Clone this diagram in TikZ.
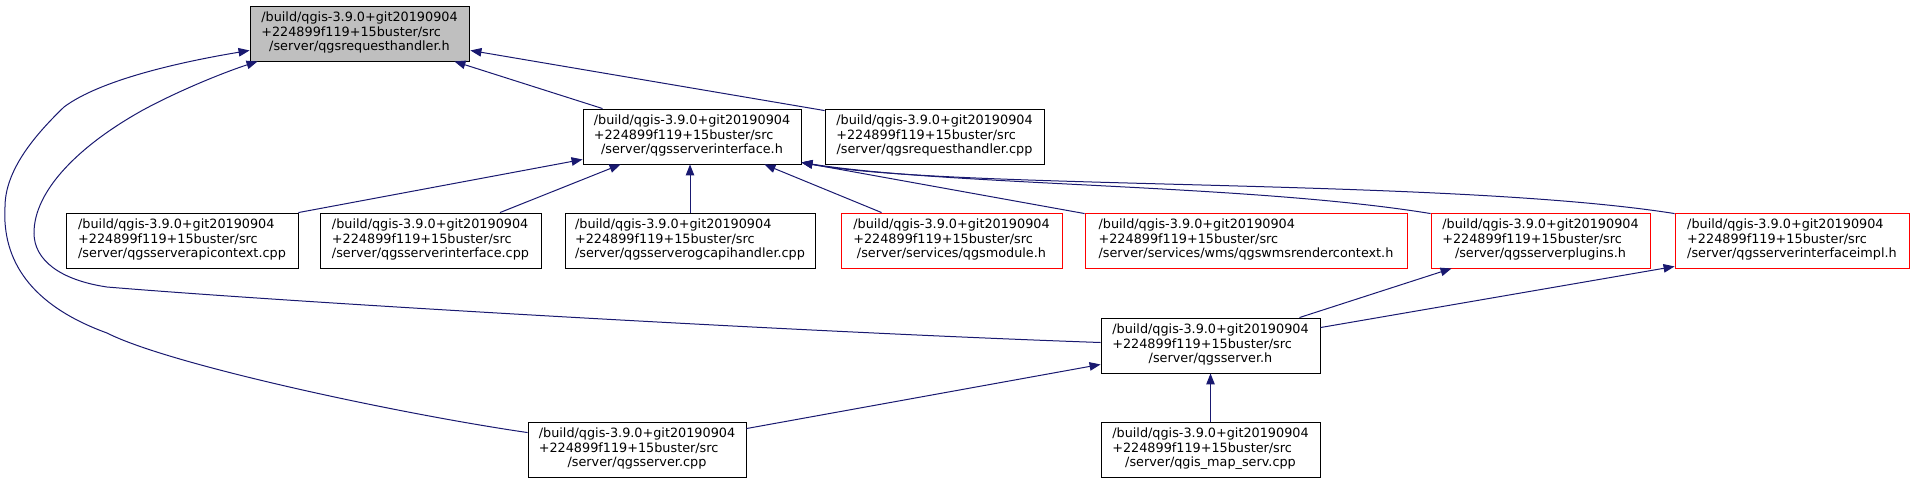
\documentclass[tikz,border=0pt]{standalone}
\usepackage{fontspec}
\setmainfont{DejaVu Sans}
\usetikzlibrary{arrows.meta,calc}
\definecolor{edgeblue}{HTML}{191970}
\definecolor{rootgray}{HTML}{BFBFBF}
\newcommand{\lbl}[3]{\begin{tabular}{@{}l@{}}#1\\#2\\\multicolumn{1}{@{}c@{}}{#3}\end{tabular}}
\begin{document}
\begin{tikzpicture}[x=1pt,y=-1pt,
  box/.style={draw=black,fill=white,line width=0.9pt,rectangle,inner sep=0pt,minimum height=55pt,
    font=\fontsize{12.8}{14.5}\selectfont},
  redbox/.style={box,draw=red},
  rootbox/.style={box,fill=rootgray},
  edge/.style={draw=edgeblue,line width=1pt,-{Triangle[length=11pt,width=8.5pt]}}]
\useasboundingbox (0,0) rectangle (1914,483);
\renewcommand{\arraystretch}{1}
\node[rootbox,minimum width=219pt] (rh) at (359.5,33.5) {\lbl{/build/qgis-3.9.0+git20190904}{+224899f119+15buster/src}{/server/qgsrequesthandler.h}};
\node[box,minimum width=218pt] (si) at (692,136.5) {\lbl{/build/qgis-3.9.0+git20190904}{+224899f119+15buster/src}{/server/qgsserverinterface.h}};
\node[box,minimum width=219pt] (rcpp) at (934.5,136.5) {\lbl{/build/qgis-3.9.0+git20190904}{+224899f119+15buster/src}{/server/qgsrequesthandler.cpp}};
\node[box,minimum width=232pt] (api) at (182,240.5) {\lbl{/build/qgis-3.9.0+git20190904}{+224899f119+15buster/src}{/server/qgsserverapicontext.cpp}};
\node[box,minimum width=221pt] (sicpp) at (430.5,240.5) {\lbl{/build/qgis-3.9.0+git20190904}{+224899f119+15buster/src}{/server/qgsserverinterface.cpp}};
\node[box,minimum width=250pt] (ogc) at (690,240.5) {\lbl{/build/qgis-3.9.0+git20190904}{+224899f119+15buster/src}{/server/qgsserverogcapihandler.cpp}};
\node[redbox,minimum width=221pt] (mod) at (951.5,240.5) {\lbl{/build/qgis-3.9.0+git20190904}{+224899f119+15buster/src}{/server/services/qgsmodule.h}};
\node[redbox,minimum width=322pt] (wms) at (1246,240.5) {\lbl{/build/qgis-3.9.0+git20190904}{+224899f119+15buster/src}{/server/services/wms/qgswmsrendercontext.h}};
\node[redbox,minimum width=219pt] (plug) at (1540.5,240.5) {\lbl{/build/qgis-3.9.0+git20190904}{+224899f119+15buster/src}{/server/qgsserverplugins.h}};
\node[redbox,minimum width=234pt] (impl) at (1792,240.5) {\lbl{/build/qgis-3.9.0+git20190904}{+224899f119+15buster/src}{/server/qgsserverinterfaceimpl.h}};
\node[box,minimum width=219pt] (srvh) at (1210.5,345.5) {\lbl{/build/qgis-3.9.0+git20190904}{+224899f119+15buster/src}{/server/qgsserver.h}};
\node[box,minimum width=218pt] (srvcpp) at (637,449.5) {\lbl{/build/qgis-3.9.0+git20190904}{+224899f119+15buster/src}{/server/qgsserver.cpp}};
\node[box,minimum width=219pt] (map) at (1210.5,449.5) {\lbl{/build/qgis-3.9.0+git20190904}{+224899f119+15buster/src}{/server/qgis\_map\_serv.cpp}};
% edges to qgsrequesthandler.h
\draw[edge] ($(rcpp.north west)+(0,2)$) -- ($(rh.south east)+(1,-11)$);
\draw[edge] ($(si.north west)+(20,0)$) -- ($(rh.south east)+(-15,0)$);
\draw[edge] ($(srvh.west)+(0,-3)$) .. controls (800,332) and (300,303) .. (107,287)
  .. controls (60,280) and (34,260) .. (34,233)
  .. controls (34,190) and (80,145) .. (143,110)
  .. controls (180,90) and (225,72) .. ($(rh.south west)+(8,0)$);
\draw[edge] ($(srvcpp.north west)+(0,11)$) .. controls (400,414) and (170,365) .. (107,333)
  .. controls (30,305) and (2,260) .. (5,207)
  .. controls (5,170) and (35,135) .. (64,107)
  .. controls (100,80) and (180,62) .. ($(rh.south west)+(0,-11)$);
% edges to qgsserverinterface.h
\draw[edge] (api.north east) -- ($(si.south west)+(0,-5)$);
\draw[edge] ($(sicpp.north)+(69.5,0)$) -- ($(si.south west)+(38,0)$);
\draw[edge] (ogc.north) -- (ogc.north |- si.south);
\draw[edge] ($(mod.north west)+(41,0)$) -- ($(si.south east)+(-37,0)$);
\draw[edge] ($(wms.north west)+(0,1)$) -- ($(si.south east)+(0,-2)$);
\draw[edge] ($(plug.north west)+(0,1)$) .. controls (1250,184) and (950,186) .. ($(si.south east)+(0,-2)$);
\draw[edge] ($(impl.north west)+(0,1)$) .. controls (1450,178) and (950,190) .. ($(si.south east)+(0,-2)$);
% edges to qgsserverplugins.h / impl
\draw[edge] ($(srvh.north east)+(-21,0)$) -- ($(plug.south west)+(21,0)$);
\draw[edge] ($(srvh.north east)+(0,10)$) -- ($(impl.south west)+(0,-2)$);
% edges to qgsserver.h
\draw[edge] ($(srvcpp.north east)+(0,7)$) -- ($(srvh.south west)+(0,-9)$);
\draw[edge] (map.north) -- (srvh.south);
\end{tikzpicture}
\end{document}
